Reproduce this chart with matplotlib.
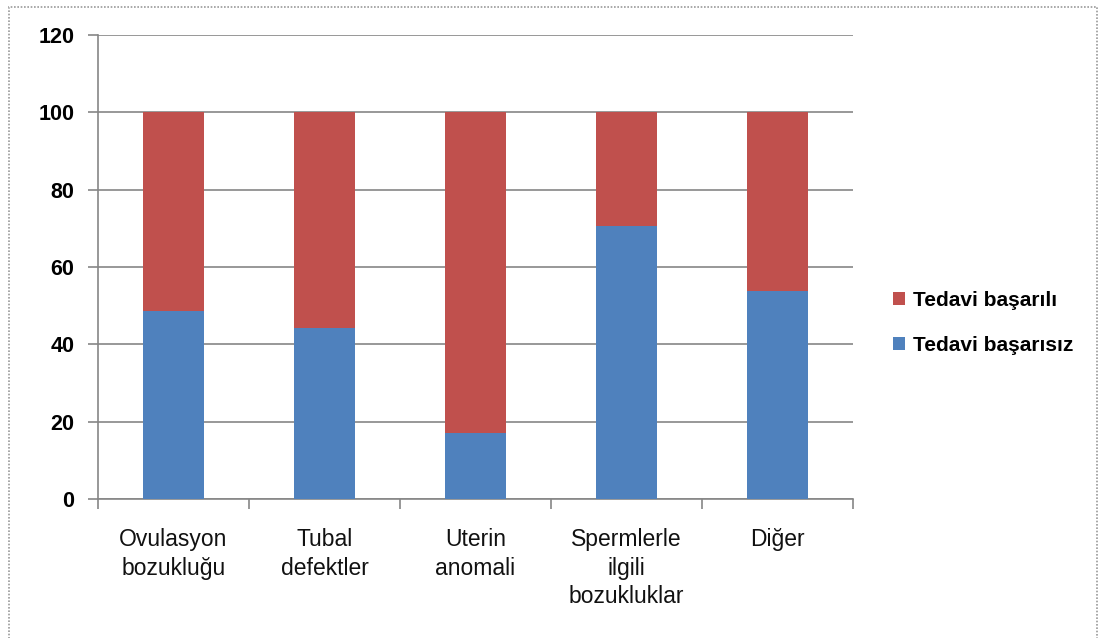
import matplotlib
matplotlib.use("Agg")
import matplotlib.pyplot as plt
from matplotlib.patches import Rectangle
import numpy as np

plt.rcParams['font.family'] = ['Liberation Sans Narrow', 'Liberation Sans', 'DejaVu Sans']

categories = ['Ovulasyon\nbozukluğu', 'Tubal\ndefektler', 'Uterin\nanomali',
              'Spermlerle\nilgili\nbozukluklar', 'Diğer']
basarisiz = [48.6, 44.2, 17.1, 70.7, 53.8]
basarili = [100 - v for v in basarisiz]
yticks = [0, 20, 40, 60, 80, 100, 120]

blue = '#4F81BD'
red = '#C0504D'
grid_col = '#868686'

fig = plt.figure(figsize=(10.98, 6.38), dpi=100)
ax = fig.add_axes([98 / 1098, 139 / 638, 755 / 1098, 464 / 638])

x = np.arange(len(categories))
ax.bar(x, basarisiz, width=0.4, color=blue, label='Tedavi başarısız', zorder=3)
ax.bar(x, basarili, width=0.4, bottom=basarisiz, color=red,
       label='Tedavi başarılı', zorder=3)

ax.set_xlim(-0.5, len(categories) - 0.5)
ax.set_ylim(0, 120)
ax.set_yticks(yticks)
ax.set_yticklabels([str(t) for t in yticks], fontsize=15.5, fontweight='bold')
ax.yaxis.grid(True, color=grid_col, linewidth=1.2, zorder=0)

# category labels between the boundary ticks
ax.set_xticks(np.arange(len(categories) + 1) - 0.5)
ax.set_xticklabels([])
ax.set_xticks(x, minor=True)
ax.set_xticklabels(categories, minor=True, fontsize=16.5, linespacing=1.3,
                   color='#111111')
ax.tick_params(axis='x', which='major', length=7, color=grid_col, width=1.2)
ax.tick_params(axis='x', which='minor', length=0, pad=21)
ax.tick_params(axis='y', length=7, color=grid_col, width=1.2, pad=10)
for lbl in ax.get_xticklabels(minor=True):
    lbl.set_verticalalignment('top')

for side in ['top', 'right']:
    ax.spines[side].set_visible(False)
for side in ['left', 'bottom']:
    ax.spines[side].set_color(grid_col)
    ax.spines[side].set_linewidth(1.2)

handles, labels = ax.get_legend_handles_labels()
fig.legend(handles[::-1], labels[::-1], loc='center left',
           bbox_to_anchor=(874 / 1098, 1 - 323 / 638), frameon=False,
           prop={'size': 15, 'weight': 'bold'}, handlelength=0.6,
           handleheight=0.6, handletextpad=0.35, labelspacing=1.25)

# dotted outer frame
fig.patches.append(Rectangle((9 / 1098, -0.05), 1088 / 1098, 1.05 - 7 / 638,
                             transform=fig.transFigure, fill=False,
                             edgecolor='#9a9a9a', linewidth=1.2,
                             linestyle=(0, (1, 1))))

fig.savefig('out.png', dpi=100)
